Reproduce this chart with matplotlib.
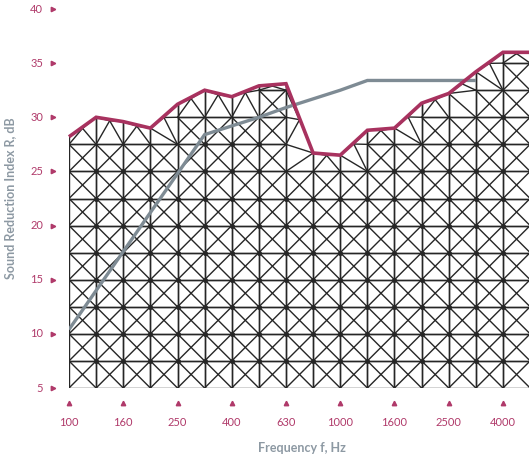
import numpy as np
import matplotlib
matplotlib.use('Agg')
import matplotlib.pyplot as plt
import matplotlib.tri as mtri
from matplotlib.collections import LineCollection

# ---------------- data ----------------
bands = ['100', '125', '160', '200', '250', '315', '400', '500', '630', '800',
         '1000', '1250', '1600', '2000', '2500', '3150', '4000', '5000']
tick_labels = ['100', '160', '250', '400', '630', '1000', '1600', '2500', '4000']
measured = [28.2, 30.0, 29.6, 29.0, 31.2, 32.5, 31.9, 32.9, 33.1, 26.7,
            26.5, 28.8, 29.0, 31.3, 32.2, 34.2, 36.0, 36.0]
reference = [10.4, 14.0, 17.6, 21.2, 24.8, 28.4, 29.2, 30.0, 30.9, 31.7,
             32.5, 33.4, 33.4, 33.4, 33.4, 33.4]
y_ticks = [5, 10, 15, 20, 25, 30, 35, 40]

# ---------------- style ----------------
CRIMSON = '#a8325f'
TICK_COL = '#b03a6a'
GREY = '#7e8b94'
LABEL_GREY = '#8d99a3'
MESH = '#262626'
FONT = ['Lato', 'DejaVu Sans']
plt.rcParams['font.family'] = FONT

fig = plt.figure(figsize=(5.29, 4.61), dpi=100)
ax = fig.add_axes([69 / 529, 73 / 461, 460 / 529, 379 / 461])
ax.set_xlim(0, 460 / 27.125)
ax.set_ylim(5, 40)
ax.axis('off')

n = len(bands)
xs = np.arange(n)
step = 2.5
base = 5.0

# ---------------- mesh ----------------
tops = []
for i in range(n - 1):
    m = min(measured[i], measured[i + 1])
    tops.append(base + np.floor((m - base) / step + 1e-9) * step)

segments = []
for i in range(n - 1):
    y = base
    while y + step <= tops[i] + 1e-9:
        x0, x1, y0, y1 = i, i + 1, y, y + step
        segments += [[(x0, y0), (x1, y0)], [(x0, y1), (x1, y1)],
                     [(x0, y0), (x0, y1)], [(x1, y0), (x1, y1)],
                     [(x0, y0), (x1, y1)], [(x0, y1), (x1, y0)]]
        y += step

    # partial region between the full cells and the curve
    px, py = [], []
    for xv in (i, i + 1):
        r = measured[xv]
        lv = tops[i]
        while lv < r - 0.35:
            px.append(xv)
            py.append(lv)
            lv += step
        px.append(xv)
        py.append(r)
    px.append(i + 0.5)
    py.append((measured[i] + measured[i + 1]) / 2 - 0.12)
    px = np.array(px, float)
    py = np.array(py, float)
    tri = mtri.Triangulation(px, (py - base) / step)
    for a, b in tri.edges:
        segments.append([(px[a], py[a]), (px[b], py[b])])

lc = LineCollection(segments, colors=MESH, linewidths=1.0, zorder=2,
                    capstyle='round')
ax.add_collection(lc)

# node dots where full cells meet
dx, dy = [], []
for i in range(1, n - 1):
    lim = min(tops[i - 1], tops[i])
    lv = base + step
    while lv < lim - 1e-9:
        dx.append(i)
        dy.append(lv)
        lv += step
ax.plot(dx, dy, 'o', ms=2.6, color=MESH, zorder=2.5)

# ---------------- curves ----------------
ax.plot(xs[:len(reference)], reference, color=GREY, lw=2.4, zorder=3,
        solid_capstyle='butt', solid_joinstyle='miter')
ax.plot(xs, measured, color=CRIMSON, lw=2.6, zorder=4, clip_on=False,
        solid_capstyle='butt', solid_joinstyle='miter')

# ---------------- ticks ----------------
ytr = ax.get_yaxis_transform()
ax.plot([-0.0348] * len(y_ticks), y_ticks, ls='none', marker='>', ms=3.2,
        color=TICK_COL, transform=ytr, clip_on=False)
for v in y_ticks:
    ax.text(-0.0565, v, str(v), transform=ytr, ha='right', va='center',
            color=TICK_COL, fontsize=8)

xtr = ax.get_xaxis_transform()
tick_pos = [bands.index(t) for t in tick_labels]
ax.plot(tick_pos, [-0.0396] * len(tick_pos), ls='none', marker='^', ms=3.2,
        color=TICK_COL, transform=xtr, clip_on=False)
for p, t in zip(tick_pos, tick_labels):
    ax.text(p, -0.0923, t, transform=xtr, ha='center', va='center',
            color=TICK_COL, fontsize=8)

# ---------------- axis titles ----------------
fig.text(10 / 529, 1 - 198 / 461, 'Sound Reduction Index R, dB', rotation=90,
         ha='center', va='center', color=LABEL_GREY, fontsize=9,
         fontweight='bold')
fig.text(302 / 529, 1 - 448 / 461, 'Frequency f, Hz', ha='center',
         va='center', color=LABEL_GREY, fontsize=9, fontweight='bold')

fig.savefig('out.png', dpi=100)
